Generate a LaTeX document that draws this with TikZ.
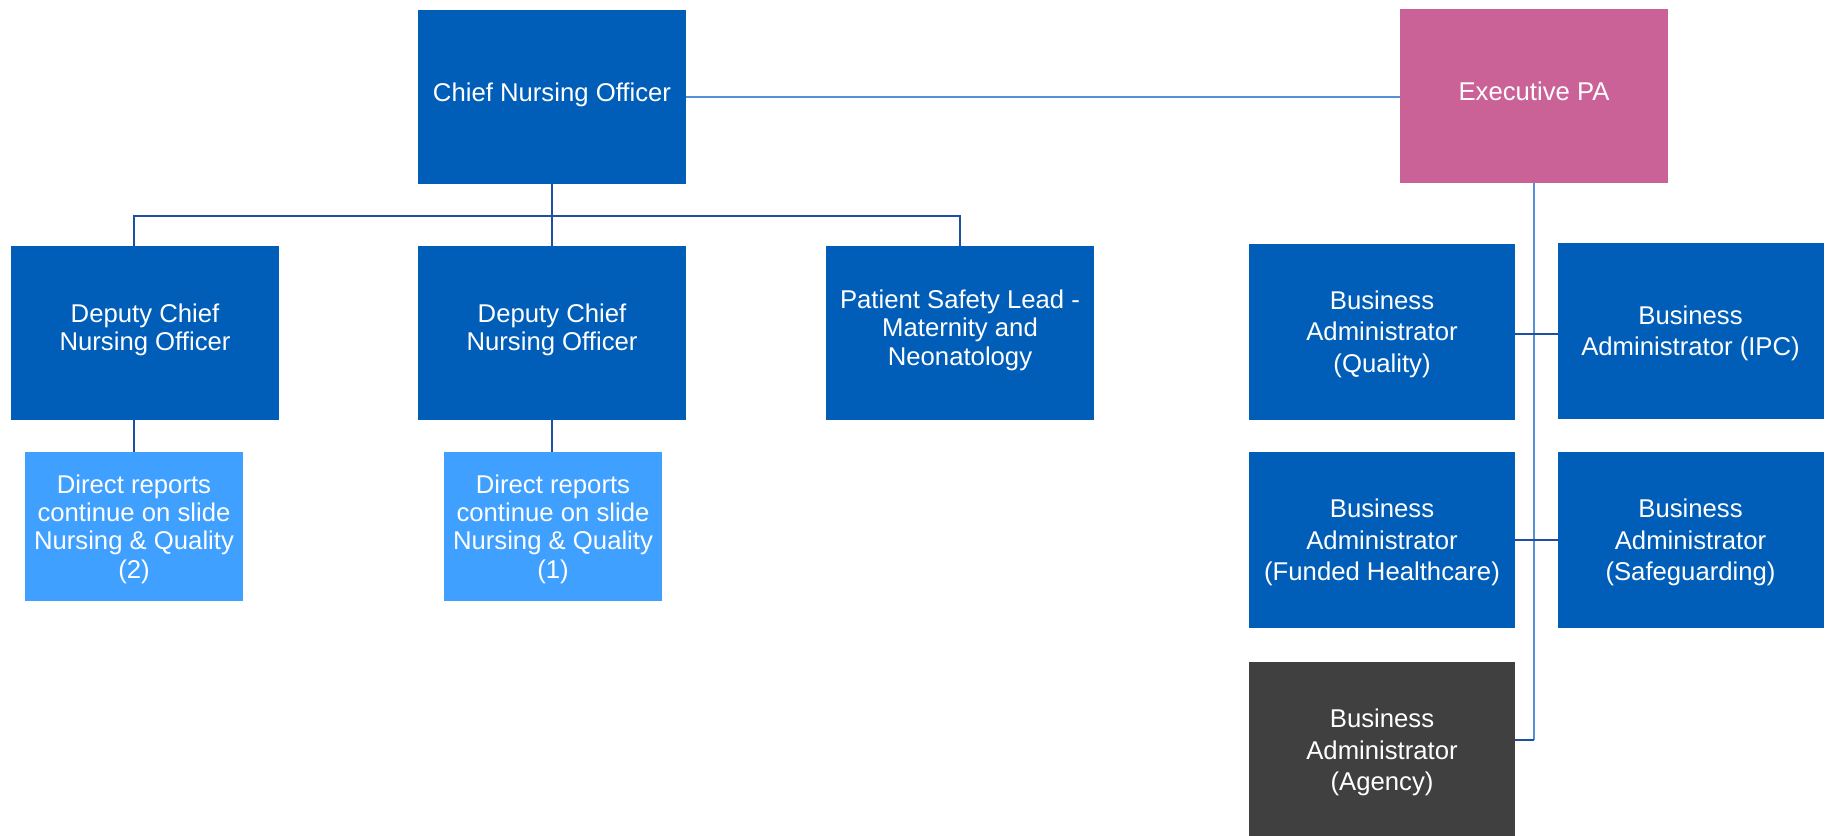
\documentclass[tikz,border=0pt]{standalone}
\usepackage{fontspec}
\setmainfont{Liberation Sans}
\definecolor{nhsblue}{HTML}{005EB8}
\definecolor{lightbox}{HTML}{3FA0FF}
\definecolor{pinkbox}{HTML}{CA6298}
\definecolor{greybox}{HTML}{404040}
\definecolor{lineLight}{HTML}{5590D8}
\definecolor{lineDark}{HTML}{1F4FA0}
\begin{document}
\begin{tikzpicture}[x=0.5pt,y=-0.5pt,
  box/.style={rectangle, inner sep=0pt, outer sep=0pt, text=white, align=center,
    text depth=-0.2pt, font=\fontsize{12.85pt}{14.1pt}\selectfont},
  bigbox/.style={box, fill=nhsblue, minimum width=134pt, minimum height=87pt},
  uppertext/.style={text depth=5pt},
  reportbox/.style={box, fill=lightbox, minimum width=109pt, minimum height=74.5pt},
  adminbox/.style={box, fill=nhsblue, minimum width=133pt, minimum height=88pt,
    font=\fontsize{12.85pt}{15.75pt}\selectfont},
  light/.style={draw=lineLight, line width=0.6pt},
  dark/.style={draw=lineDark, line width=0.6pt}]
\useasboundingbox (0,0) rectangle (1829,835);
% top level
\node[bigbox, uppertext] (chief) at (552,97) {Chief Nursing Officer};
\node[bigbox, uppertext, fill=pinkbox] (exec) at (1534,96) {Executive PA};
% second level
\node[bigbox, uppertext] (dep1) at (145,332.5) {Deputy Chief\\Nursing Officer};
\node[bigbox, uppertext] (dep2) at (552,332.5) {Deputy Chief\\Nursing Officer};
\node[bigbox, uppertext] (psl) at (960,332.5) {Patient Safety Lead -\\Maternity and\\Neonatology};
% direct reports
\node[reportbox] (dr2) at (134,526.5) {Direct reports\\continue on slide\\Nursing \& Quality\\(2)};
\node[reportbox] (dr1) at (553,526.5) {Direct reports\\continue on slide\\Nursing \& Quality\\(1)};
% admin boxes
\node[adminbox] (bq) at (1382,331.5) {Business\\Administrator\\(Quality)};
\node[adminbox] (ipc) at (1690.5,330.5) {Business\\Administrator (IPC)};
\node[adminbox] (bf) at (1382,540) {Business\\Administrator\\(Funded Healthcare)};
\node[adminbox] (bs) at (1690.5,540) {Business\\Administrator\\(Safeguarding)};
\node[adminbox, fill=greybox] (ag) at (1382,750) {Business\\Administrator\\(Agency)};
% coordinates
\coordinate (bar) at (552,216);
\coordinate (agc) at (1534,740);
% connectors
\draw[light] (chief.east) -- (chief.east -| exec.west);
\draw[dark] (chief.south) -- (dep2.north);
\draw[dark] (dr2.north |- dep1.north) -- (dr2.north |- bar) -- (psl.north |- bar) -- (psl.north);
\draw[dark] (dr2.north |- dep1.south) -- (dr2.north);
\draw[dark] (dep2.south) -- (dr1.north -| dep2.south);
\draw[light] (exec.south) -- (agc);
\draw[dark] (bq.east |- 0,334) -- (ipc.west |- 0,334);
\draw[dark] (bf.east) -- (bs.west);
\draw[dark] (ag.east |- agc) -- (agc);
\end{tikzpicture}
\end{document}
